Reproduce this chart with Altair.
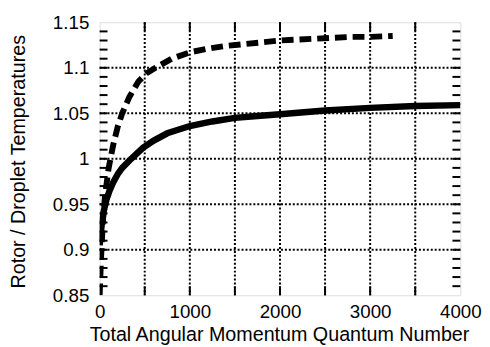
import altair as alt
import pandas as pd

# Solid curve
J_solid = [0, 10, 20, 40, 75, 110, 150, 200, 250, 350, 480, 600, 750, 1000, 1250, 1500, 1750, 2000, 2500, 3000, 3500, 4000]
T_solid = [0.905, 0.915, 0.925, 0.94, 0.955, 0.965, 0.974, 0.983, 0.99, 1.0, 1.012, 1.02, 1.028, 1.036, 1.041, 1.045, 1.047, 1.049, 1.053, 1.056, 1.058, 1.059]

# Dashed curve
J_dash = [0, 15, 35, 60, 100, 150, 200, 250, 330, 430, 520, 620, 800, 1000, 1200, 1400, 1600, 1800, 2000, 2200, 2400, 2600, 2800, 3000, 3250]
T_dash = [0.85, 0.89, 0.93, 0.96, 0.99, 1.015, 1.035, 1.05, 1.068, 1.085, 1.094, 1.1, 1.11, 1.117, 1.121, 1.124, 1.126, 1.128, 1.13, 1.131, 1.132, 1.133, 1.134, 1.134, 1.135]

x_ticks = [0, 1000, 2000, 3000, 4000]
x_grid = [0, 500, 1000, 1500, 2000, 2500, 3000, 3500, 4000]
y_ticks = [0.85, 0.9, 0.95, 1.0, 1.05, 1.1, 1.15]
y_minor = [0.86, 0.87, 0.88, 0.89, 0.90, 0.91, 0.92, 0.93, 0.94, 0.95, 0.96, 0.97, 0.98, 0.99, 1.00,
           1.01, 1.02, 1.03, 1.04, 1.05, 1.06, 1.07, 1.08, 1.09, 1.10, 1.11, 1.12, 1.13, 1.14]
x_minor = [500, 1000, 1500, 2000, 2500, 3000, 3500]

W, H = 366, 277
FONT = "Liberation Sans"

xs = alt.Scale(domain=[0, 4000], nice=False, zero=False)
ys = alt.Scale(domain=[0.85, 1.15], nice=False, zero=False)

solid = pd.DataFrame({"J": J_solid, "T": T_solid})
dash = pd.DataFrame({"J": J_dash, "T": T_dash})

xg = alt.Chart(pd.DataFrame({"J": x_grid[1:-1]})).mark_rule(
    color="black", strokeWidth=2, strokeDash=[2, 2]
).encode(x=alt.X("J:Q", scale=xs))
yg = alt.Chart(pd.DataFrame({"T": y_ticks[1:-1]})).mark_rule(
    color="black", strokeWidth=2, strokeDash=[2, 2]
).encode(y=alt.Y("T:Q", scale=ys))

ym = pd.DataFrame({"T": y_minor})
yl = alt.Chart(ym).mark_rule(color="black", strokeWidth=2).encode(
    y=alt.Y("T:Q", scale=ys), x=alt.value(0), x2=alt.value(8))
yr = alt.Chart(ym).mark_rule(color="black", strokeWidth=2).encode(
    y=alt.Y("T:Q", scale=ys), x=alt.value(W - 8), x2=alt.value(W))
xm = pd.DataFrame({"J": x_minor})
xb = alt.Chart(xm).mark_rule(color="black", strokeWidth=2).encode(
    x=alt.X("J:Q", scale=xs), y=alt.value(H - 9), y2=alt.value(H))
xt = alt.Chart(xm).mark_rule(color="black", strokeWidth=2).encode(
    x=alt.X("J:Q", scale=xs), y=alt.value(0), y2=alt.value(9))

xaxis = alt.Axis(values=x_ticks, grid=False, ticks=False, tickSize=0, domain=False,
                 labelFont=FONT, labelFontSize=19, labelColor="black", format="d",
                 labelPadding=23, labelBaseline="alphabetic", labelFlush=False,
                 title="Total Angular Momentum Quantum Number", titleFont=FONT,
                 titleFontSize=20, titleFontWeight="normal", titleColor="black",
                 titleX=182, titleY=46, titleBaseline="alphabetic", titleAlign="center")
yaxis = alt.Axis(values=y_ticks, grid=False, ticks=False, tickSize=0, domain=False,
                 labelFont=FONT, labelFontSize=19, labelColor="black",
                 labelPadding=11, labelFlush=False, format=".3~f",
                 title="Rotor / Droplet Temperatures", titleFont=FONT,
                 titleFontSize=20, titleFontWeight="normal", titleColor="black",
                 titleX=-76, titleY=141, titleAngle=270, titleBaseline="alphabetic",
                 titleAlign="center")

solid_line = alt.Chart(solid).mark_line(color="black", strokeWidth=6.5, clip=True).encode(
    x=alt.X("J:Q", scale=xs, axis=xaxis),
    y=alt.Y("T:Q", scale=ys, axis=yaxis),
)
dash_line = alt.Chart(dash).mark_line(color="black", strokeWidth=6, strokeDash=[12, 6], clip=True).encode(
    x=alt.X("J:Q", scale=xs),
    y=alt.Y("T:Q", scale=ys),
)

chart = alt.layer(xg, yg, yl, yr, xb, xt, solid_line, dash_line).properties(
    width=W, height=H,
    autosize=alt.AutoSizeParams(type="none"),
    padding={"left": 93, "top": 12, "right": 22, "bottom": 51},
).configure_view(stroke="black", strokeWidth=3).configure(background="white")

chart.save("out.html", embed_options={"renderer": "svg", "actions": False})
